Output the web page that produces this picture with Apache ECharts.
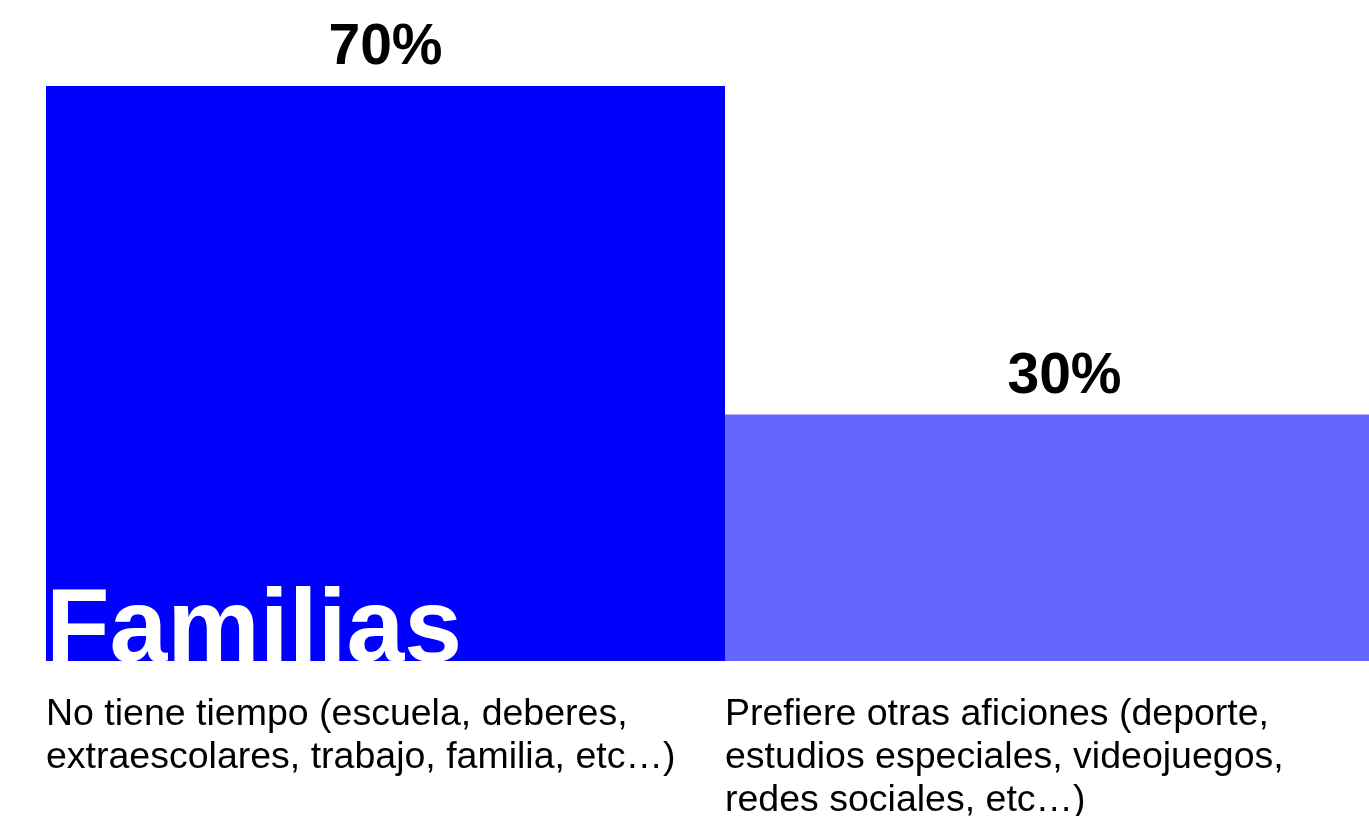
<!DOCTYPE html>
<html>
<head>
<meta charset="utf-8">
<script src="https://cdn.jsdelivr.net/npm/echarts@6/dist/echarts.min.js"></script>
<style>
  html, body { margin: 0; padding: 0; background: #fff; }
  #chart { width: 1369px; height: 816px; }
</style>
</head>
<body>
<div id="chart"></div>
<script>
// datos
const categorias = [
  'No tiene tiempo (escuela, deberes,\nextraescolares, trabajo, familia, etc…)',
  'Prefiere otras aficiones (deporte,\nestudios especiales, videojuegos,\nredes sociales, etc…)'
];
const valores = [70, 30];
const colores = ['#0000ff', '#6666ff'];
const titulo = 'Familias';

const fuente = '"Liberation Sans", Helvetica, Arial, sans-serif';

const chart = echarts.init(document.getElementById('chart'));

chart.setOption({
  animation: false,
  title: {
    text: titulo,
    left: 46,
    top: 580,
    padding: 0,
    textStyle: { color: '#fff', fontSize: 104, fontWeight: 'bold', fontFamily: fuente }
  },
  // la segunda barra sigue fuera del lienzo por la derecha
  grid: { left: 46, width: 1358, top: 86, bottom: 155, outerBoundsMode: 'none' },
  xAxis: [
    {
      type: 'category',
      data: categorias,
      axisLine: { show: false },
      axisTick: { show: false },
      axisLabel: { show: false }
    },
    {
      // eje auxiliar para alinear las etiquetas al borde izquierdo de cada barra
      type: 'value',
      min: 0,
      max: categorias.length,
      interval: 1,
      position: 'bottom',
      splitLine: { show: false },
      axisLine: { show: false },
      axisTick: { show: false },
      axisLabel: {
        align: 'left',
        verticalAlign: 'top',
        margin: 32,
        color: '#000',
        fontSize: 37.5,
        lineHeight: 43,
        fontFamily: fuente,
        formatter: (v) => categorias[v] || ''
      }
    }
  ],
  yAxis: {
    type: 'value',
    min: 0,
    max: 70,
    show: false
  },
  series: [
    {
      type: 'bar',
      barCategoryGap: 0,
      data: valores.map((v, i) => ({ value: v, itemStyle: { color: colores[i] } })),
      label: {
        show: true,
        position: 'top',
        distance: 9,
        formatter: '{c}%',
        color: '#000',
        fontSize: 57,
        fontWeight: 'bold',
        fontFamily: fuente
      }
    }
  ]
});
</script>
</body>
</html>
